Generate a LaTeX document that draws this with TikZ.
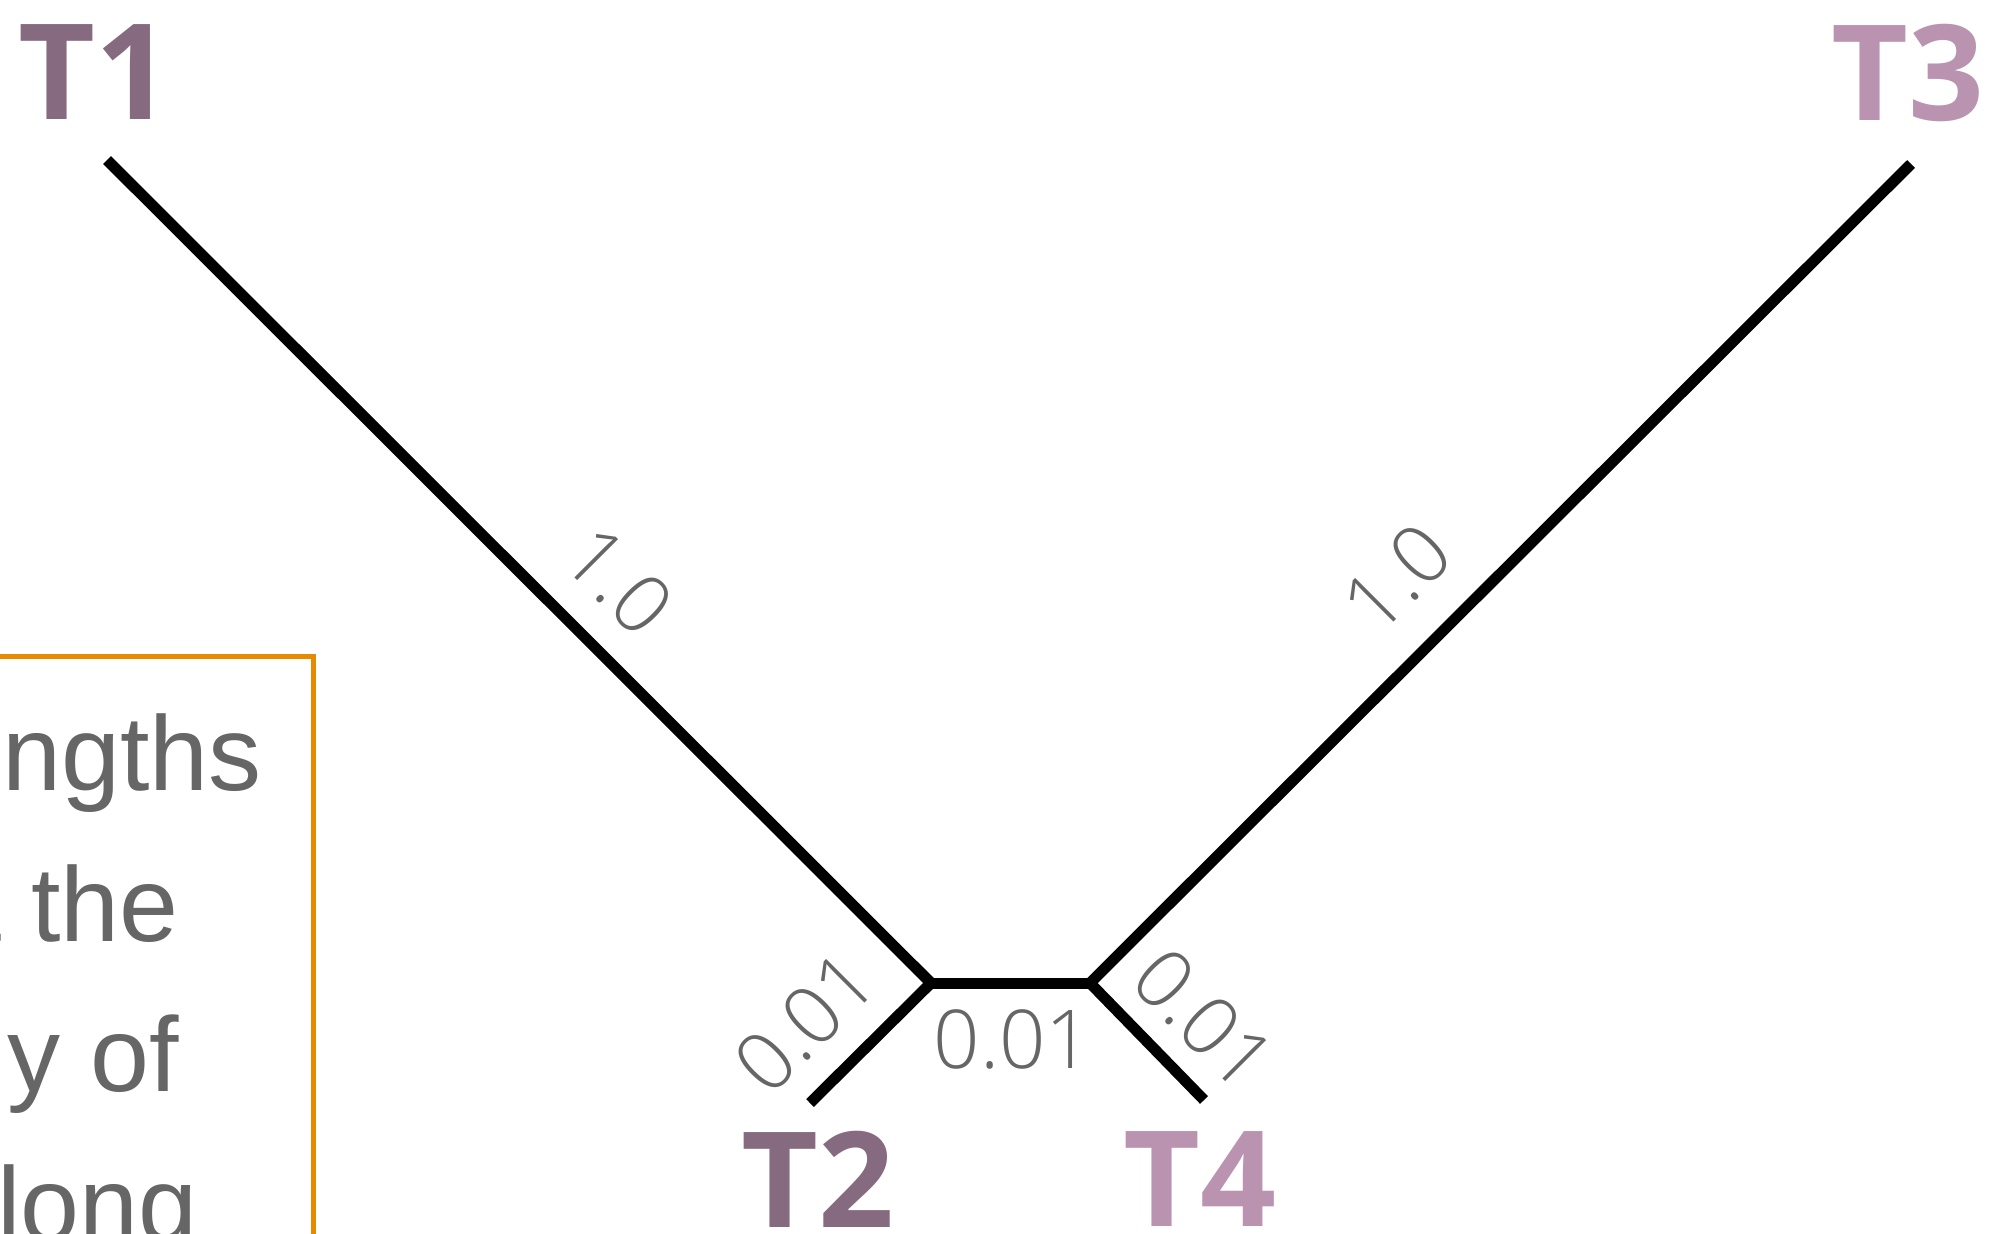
\documentclass[tikz,border=0pt]{standalone}
\usepackage{fontspec}
\setmainfont{Open Sans}
\newfontfamily\labelfont{Open Sans Light}
\newfontfamily\notefont{Liberation Sans}
\definecolor{taxondark}{RGB}{134,106,128}
\definecolor{taxonlight}{RGB}{186,147,176}
\definecolor{labelgrey}{RGB}{102,102,102}
\definecolor{noteorange}{RGB}{230,138,0}
\begin{document}
\begin{tikzpicture}[x=0.5pt,y=-0.5pt,
  branch/.style={line width=5.5pt, line join=miter, draw=black},
  taxon/.style={font=\fontsize{66.5}{70}\selectfont\bfseries, inner sep=0pt},
  edgelabel/.style={font=\labelfont\fontsize{40.6}{44}\selectfont, text=labelgrey, inner sep=0pt},
  notetext/.style={font=\notefont\fontsize{53}{75}\selectfont, text=labelgrey, inner sep=0pt, anchor=base east},
  notebox/.style={draw=noteorange, line width=2.5pt}
]
\useasboundingbox (0,0) rectangle (1992,1233);
\clip (0,0) rectangle (1992,1233);

% taxa
\node[taxon, text=taxondark]  (T1) at (95,72)    {T1};
\node[taxon, text=taxonlight] (T3) at (1908,73)  {T3};
\node[taxon, text=taxondark]  (T2) at (818,1179) {T2};
\node[taxon, text=taxonlight] (T4) at (1200,1179) {T4};

% branch ends and inner nodes
\coordinate (leaf1) at (107,160);
\coordinate (leaf3) at (1911,164);
\coordinate (leaf2) at (810,1103);
\coordinate (leaf4) at (1204,1100);
\coordinate (inner1) at (931,983);
\coordinate (inner2) at (1090,983);

% tree
\draw[branch] (leaf1) -- (inner1) -- (leaf2);
\draw[branch] (inner1) -- (inner2);
\draw[branch] (leaf3) -- (inner2) -- (leaf4);

% branch lengths
\node[edgelabel, rotate=-45] (len1) at (619,581)  {1.0};
\node[edgelabel, rotate=45]  (len3) at (1397,578) {1.0};
\node[edgelabel, rotate=45]  (len2) at (805,1022) {0.01};
\node[edgelabel, rotate=-45] (len4) at (1204,1019) {0.01};
\node[edgelabel]             (len5) at (1013,1039) {0.01};

% note box
\draw[notebox] (-30,656.5) rectangle (313.5,1300);
\node[notetext] (note1) at (262,790)  {ngths};
\node[notetext] (note2) at (179,941)  {t the};
\node[notetext] (note3) at (179,1091) {y of};
\node[notetext, anchor=base west] (note4) at (-3,1241) {long};
\end{tikzpicture}
\end{document}
